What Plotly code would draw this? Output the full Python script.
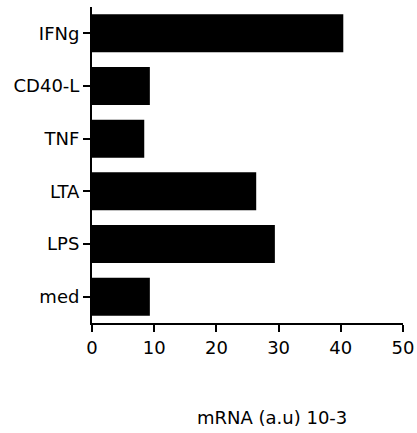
import plotly.graph_objects as go

categories = ["med", "LPS", "LTA", "TNF", "CD40-L", "IFNg"]
values = [9.3, 29.4, 26.4, 8.4, 9.3, 40.4]
x_ticks = [0, 10, 20, 30, 40, 50]
x_title = "mRNA (a.u) 10-3"

font = dict(family="DejaVu Sans", size=18, color="black")

fig = go.Figure(go.Bar(
    x=values, y=categories, orientation="h",
    marker=dict(color="black", line=dict(width=0)),
    width=0.72,
))

fig.update_layout(
    width=417, height=433,
    margin=dict(l=92, r=14, t=7, b=110, autoexpand=False),
    paper_bgcolor="white", plot_bgcolor="white",
    font=font,
    showlegend=False,
    xaxis=dict(
        range=[0, 50], tickvals=x_ticks, ticktext=[str(v) for v in x_ticks],
        showline=True, linecolor="black", linewidth=2,
        ticks="outside", ticklen=7, tickwidth=2, tickcolor="black",
        showgrid=False, zeroline=False, tickfont=font,
    ),
    yaxis=dict(
        categoryorder="array", categoryarray=categories,
        range=[-0.5, 5.5],
        showline=True, linecolor="black", linewidth=2,
        ticks="outside", ticklen=7, tickwidth=2, tickcolor="black",
        showgrid=False, zeroline=False, tickfont=font,
    ),
    annotations=[dict(
        text=x_title, xref="paper", yref="paper",
        x=0.579, y=-0.30, xanchor="center", yanchor="middle",
        showarrow=False, font=font,
    )],
)

fig.write_html(
    "out.html",
    config={"displayModeBar": False},
    post_script="document.body.style.margin='0';document.body.style.overflow='hidden';",
)
